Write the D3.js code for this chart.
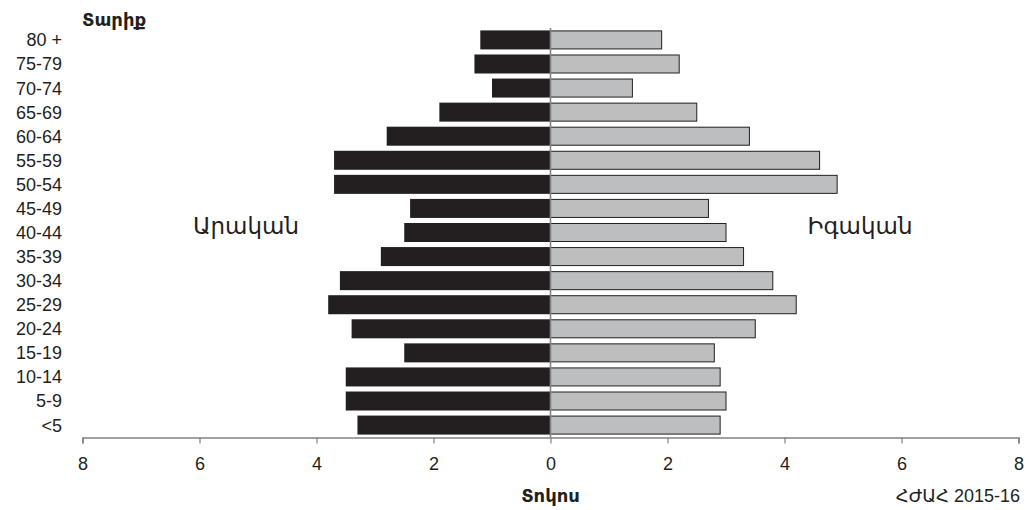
<!DOCTYPE html>
<html><head><meta charset="utf-8">
<script src="https://cdn.jsdelivr.net/npm/d3@7"></script>
<style>
body{margin:0;background:#fff;}
text{font-family:"Liberation Sans","DejaVu Sans",Arial,sans-serif;fill:#231f20;}
</style></head>
<body><svg id="c" width="1029" height="510"></svg>
<script>
const ages = ["80 +","75-79","70-74","65-69","60-64","55-59","50-54","45-49","40-44","35-39","30-34","25-29","20-24","15-19","10-14","5-9","<5"];
const male = [1.2,1.3,1.0,1.9,2.8,3.7,3.7,2.4,2.5,2.9,3.6,3.8,3.4,2.5,3.5,3.5,3.3];
const female = [1.9,2.2,1.4,2.5,3.4,4.6,4.9,2.7,3.0,3.3,3.8,4.2,3.5,2.8,2.9,3.0,2.9];
const xTicks = [-8,-6,-4,-2,0,2,4,6,8];
const labels = {y:"Տարիք", x:"Տոկոս", male:"Արական", female:"Իգական", source:"ՀԺԱՀ 2015-16"};

const svg = d3.select("#c");
const x = d3.scaleLinear().domain([-8,8]).range([82.5,1018.5]);
const y = d3.scaleBand().domain(ages).range([28,437]).paddingInner(0.21).paddingOuter(0.1);
const axisY = 437.5;

// male bars
svg.append("g").selectAll("rect").data(ages).join("rect")
  .attr("x",(d,i)=>x(-male[i])).attr("y",d=>y(d))
  .attr("width",(d,i)=>x(0)-x(-male[i])).attr("height",y.bandwidth())
  .attr("fill","#231f20");
// female bars
svg.append("g").selectAll("rect").data(ages).join("rect")
  .attr("x",x(0)).attr("y",d=>y(d)+0.5)
  .attr("width",(d,i)=>x(female[i])-x(0)).attr("height",y.bandwidth()-1)
  .attr("fill","#bcbec0").attr("stroke","#231f20").attr("stroke-width",1);

// center line
svg.append("line").attr("x1",x(0)).attr("x2",x(0)).attr("y1",28).attr("y2",axisY)
  .attr("stroke","#808285").attr("stroke-width",1.6);

// x axis
const xa = svg.append("g").attr("transform",`translate(0,${axisY})`)
  .call(d3.axisBottom(x).tickValues(xTicks).tickFormat(d=>Math.abs(d)).tickSize(6).tickPadding(14));
xa.select(".domain").attr("stroke","#808285").attr("stroke-width",1.6);
xa.selectAll(".tick line").attr("stroke","#808285").attr("stroke-width",1.2);
xa.selectAll(".tick text").style("font-size","18px").style("font-family","'Liberation Sans',sans-serif").attr("fill","#231f20");

// y labels
svg.append("g").selectAll("text").data(ages).join("text")
  .attr("x",62).attr("y",d=>y(d)+y.bandwidth()/2).attr("dy","0.36em")
  .attr("text-anchor","end").style("font-size","18px").text(d=>d);

svg.append("text").attr("x",82).attr("y",26).style("font-size","18px").style("font-weight","bold").text(labels.y);
svg.append("text").attr("x",x(0)).attr("y",502).attr("text-anchor","middle").style("font-size","18px").style("font-weight","bold").text(labels.x);
svg.append("text").attr("x",1020).attr("y",502).attr("text-anchor","end").style("font-size","18px").text(labels.source);
svg.append("text").attr("x",246).attr("y",234).attr("text-anchor","middle").style("font-size","23px").text(labels.male);
svg.append("text").attr("x",860).attr("y",234).attr("text-anchor","middle").style("font-size","23px").text(labels.female);
</script></body></html>
